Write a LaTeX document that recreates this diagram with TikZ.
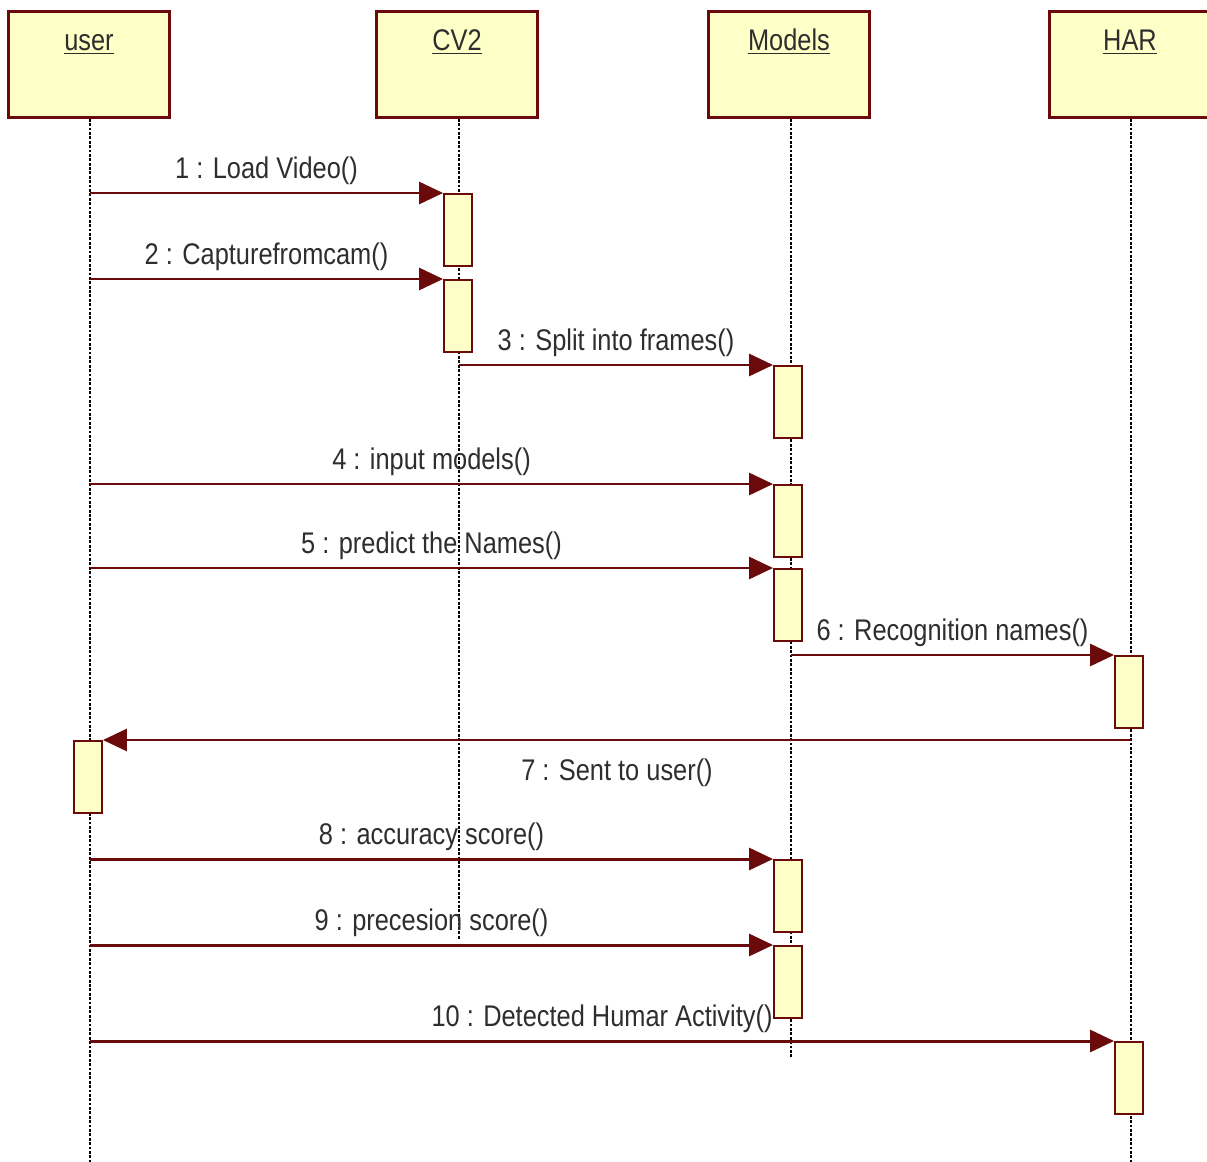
\documentclass[tikz,border=0pt]{standalone}
\usepackage{fontspec}
\setmainfont{Liberation Sans}[FakeStretch=0.85]
\usetikzlibrary{arrows.meta,positioning}
\definecolor{umlred}{HTML}{6A0A0A}
\definecolor{umlfill}{HTML}{FFFFC8}
\definecolor{umltext}{HTML}{2E2E2E}
\tikzset{
  object/.style={draw=umlred, fill=umlfill, line width=1.6pt, minimum width=3.22cm,
    minimum height=2.12cm, anchor=north, inner sep=0pt},
  objname/.style={font=\fontsize{17}{20}\selectfont, text=umltext, anchor=base,
    inner sep=0pt, label distance=0pt, yshift=-0.82cm},
  activation/.style={draw=umlred, fill=umlfill, line width=1.1pt, minimum width=0.56cm,
    minimum height=1.44cm, anchor=north, inner sep=0pt},
  lifeline/.style={draw=black, line width=0.8pt, dash pattern=on 1.6pt off 0.9pt},
  msg/.style={draw=umlred, line width=1.7pt, -{Triangle[length=0.48cm, width=0.44cm]}},
  lbl/.style={font=\fontsize{17}{20}\selectfont, text=umltext, inner sep=0pt}
}
\begin{document}
\begin{tikzpicture}[x=0.02cm, y=-0.02cm]
\clip (0,0) rectangle (1207,1162);
\fill[white] (0,0) rectangle (1207,1162);

% objets
\node[object, label={[objname]north:\underline{user}}] (user) at (89,10) {};
\node[object, label={[objname]north:\underline{CV2}}] (cv2) at (457,10) {};
\node[object, label={[objname]north:\underline{Models}}] (models) at (789,10) {};
\node[object, label={[objname]north:\underline{HAR}}] (har) at (1130,10) {};

% fins des lignes de vie
\coordinate (user-end) at (90,1162);
\coordinate (cv2-end) at (459,940);
\coordinate (models-end) at (791,1058);
\coordinate (har-end) at (1131,1162);

% lignes de vie
\draw[lifeline] (user.south -| user-end) -- (user-end);
\draw[lifeline] (cv2.south -| cv2-end) -- (cv2-end);
\draw[lifeline] (models.south -| models-end) -- (models-end);
\draw[lifeline] (har.south -| har-end) -- (har-end);

% activations
\node[activation] (a1) at (458,193) {};
\node[activation] (a2) at (458,279) {};
\node[activation] (a3) at (788,365) {};
\node[activation] (a4) at (788,484) {};
\node[activation] (a5) at (788,568) {};
\node[activation] (a6) at (1129,655) {};
\node[activation] (a7) at (88,740) {};
\node[activation] (a8) at (788,859) {};
\node[activation] (a9) at (788,945) {};
\node[activation] (a10) at (1129,1041) {};

% departs des messages
\coordinate (s1) at (90,193);
\coordinate (s2) at (90,279);
\coordinate (s3) at (459,365);
\coordinate (s4) at (90,484);
\coordinate (s5) at (90,568);
\coordinate (s6) at (791,655);
\coordinate (s7) at (1131,740);
\coordinate (s8) at (90,859);
\coordinate (s9) at (90,945);
\coordinate (s10) at (90,1041);

% messages
\draw[msg] (s1) -- (a1.north west) node[lbl, midway, above=0.14cm] {1 : Load Video()};
\draw[msg] (s2) -- (a2.north west) node[lbl, midway, above=0.14cm] {2 : Capturefromcam()};
\draw[msg] (s3) -- (a3.north west) node[lbl, midway, above=0.14cm] {3 : Split into frames()};
\draw[msg] (s4) -- (a4.north west) node[lbl, midway, above=0.14cm] {4 : input models()};
\draw[msg] (s5) -- (a5.north west) node[lbl, midway, above=0.14cm] {5 : predict the Names()};
\draw[msg] (s6) -- (a6.north west) node[lbl, midway, above=0.14cm] {6 : Recognition names()};
\draw[msg] (s7) -- (a7.north east) node[lbl, midway, below=0.34cm] {7 : Sent to user()};
\draw[msg] (s8) -- (a8.north west) node[lbl, midway, above=0.14cm] {8 : accuracy score()};
\draw[msg] (s9) -- (a9.north west) node[lbl, midway, above=0.14cm] {9 : precesion score()};
\draw[msg] (s10) -- (a10.north west) node[lbl, midway, above=0.14cm] {10 : Detected Humar Activity()};
\end{tikzpicture}
\end{document}
